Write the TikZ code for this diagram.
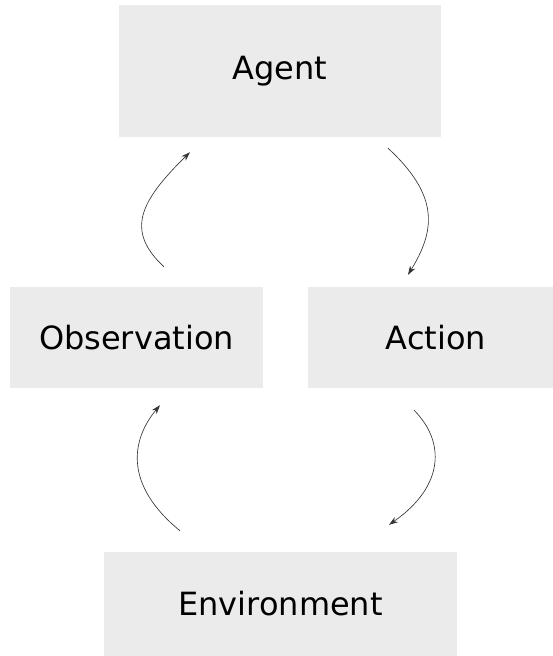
\documentclass[tikz,border=0pt]{standalone}
\usepackage{fontspec}
\setmainfont{DejaVu Sans}
\usepackage{tikz}
\usetikzlibrary{calc}
\usetikzlibrary{arrows.meta}
\definecolor{boxgray}{HTML}{EBEBEB}
\tikzset{box/.style={fill=boxgray,draw=none,inner sep=0pt,font=\fontsize{32pt}{38pt}\selectfont}}
\tikzset{flow/.style={-{Stealth[length=9pt,width=6pt]},line width=0.65pt,color=black!80}}

\begin{document}
\begin{tikzpicture}[x=1pt,y=1pt]
\useasboundingbox (0,0) rectangle (552,656);

\node[box,minimum width=322pt,minimum height=132pt] at (280,585) (agent) {Agent};
\node[box,minimum width=253pt,minimum height=101pt] at (136.5,318.5) (observation) {Observation};
\node[box,minimum width=256pt,minimum height=101pt] at (436,318.5) (action) {Action};
\node[box,minimum width=353pt,minimum height=104pt] at (280.5,52) (environment) {Environment};

% loop: agent -> action -> environment -> observation -> agent
\draw[flow] ([xshift=108pt,yshift=-11pt]agent.south) .. controls ++(52,-48) and ++(27,44) .. ([xshift=-28pt,yshift=12pt]action.north);
\draw[flow] ([xshift=-22pt,yshift=-22pt]action.south) .. controls ++(31,-31) and ++(56,39) .. ([xshift=108.5pt,yshift=27pt]environment.north);
\draw[flow] ([xshift=-100.5pt,yshift=21pt]environment.north) .. controls ++(-55,45) and ++(-30,-36) .. ([xshift=23.5pt,yshift=-17pt]observation.south);
\draw[flow] ([xshift=27.5pt,yshift=20pt]observation.north) .. controls ++(-39,36) and ++(-50,-49) .. ([xshift=-90pt,yshift=-15pt]agent.south);
\end{tikzpicture}
\end{document}
